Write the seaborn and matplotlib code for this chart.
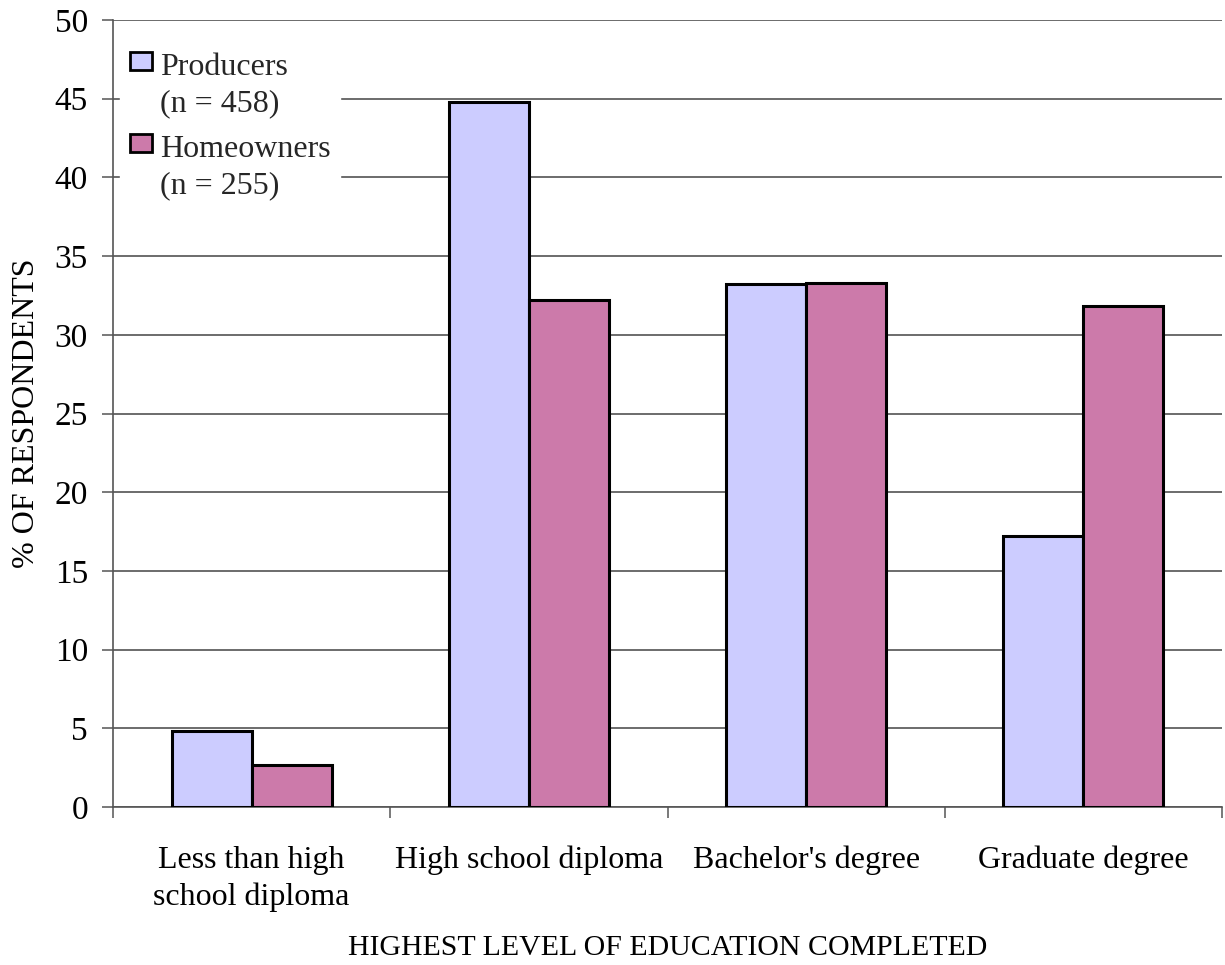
import matplotlib
matplotlib.use("Agg")
import matplotlib.pyplot as plt
from matplotlib.patches import Rectangle
from matplotlib.legend_handler import HandlerPatch
import seaborn as sns
import pandas as pd
import numpy as np

categories = ["Less than high\nschool diploma", "High school diploma",
              "Bachelor's degree", "Graduate degree"]
producers = [4.8, 44.8, 33.2, 17.2]
homeowners = [2.7, 32.2, 33.3, 31.8]
series_names = ["Producers\n(n = 458)", "Homeowners\n(n = 255)"]
y_ticks = [0, 5, 10, 15, 20, 25, 30, 35, 40, 45, 50]

df = pd.DataFrame({
    "category": categories * 2,
    "value": producers + homeowners,
    "series": [series_names[0]] * len(categories) + [series_names[1]] * len(categories),
})


class TopAlignedPatch(HandlerPatch):
    """Legend key that sits beside the first line of a two-line label."""

    def __init__(self, shift=0.0, **kw):
        super().__init__(**kw)
        self.shift = shift

    def create_artists(self, legend, orig_handle, xdescent, ydescent,
                       width, height, fontsize, trans):
        p = Rectangle((-xdescent, -ydescent + self.shift * fontsize), width, height)
        self.update_prop(p, orig_handle, legend)
        p.set_transform(trans)
        return [p]


sns.set_theme(style="white")
plt.rcParams["font.family"] = ["Liberation Serif", "DejaVu Serif"]

fig = plt.figure(figsize=(12.25, 9.65), dpi=100)
ax = fig.add_axes([0.0922, 0.1637, 0.9054, 0.8156])

palette = {series_names[0]: "#CCCCFF", series_names[1]: "#CC7AAA"}
sns.barplot(data=df, x="category", y="value", hue="series", order=categories,
            hue_order=series_names, palette=palette, width=0.577, gap=0,
            edgecolor="black", linewidth=2.2, saturation=1, ax=ax, zorder=3)

ax.set_ylim(0, 50)
ax.set_xlim(-0.5, len(categories) - 0.5)
ax.set_yticks(y_ticks)
ax.yaxis.grid(True, color="#444444", linewidth=1.1, zorder=0)
ax.set_axisbelow(True)

for side in ["top", "right"]:
    ax.spines[side].set_visible(False)
ax.spines["left"].set_color("#555555")
ax.spines["bottom"].set_color("#555555")
ax.spines["left"].set_linewidth(1.2)
ax.spines["bottom"].set_linewidth(1.2)

ax.tick_params(axis="y", which="major", left=True, length=8, width=1.1,
               color="#555555", labelsize=24, pad=10, labelcolor="black")
ax.tick_params(axis="x", which="major", bottom=False, labelsize=23, pad=22,
               labelcolor="black")
ax.set_xticks(np.arange(-0.5, len(categories), 1.0), minor=True)
ax.tick_params(axis="x", which="minor", bottom=True, length=8, width=1.1,
               color="#555555")
for lbl in ax.get_xticklabels():
    lbl.set_linespacing(1.33)

ax.set_xlabel("HIGHEST LEVEL OF EDUCATION COMPLETED", fontsize=21.5,
              labelpad=17, color="black")
ax.set_ylabel("% OF RESPONDENTS", fontsize=23, labelpad=10, color="black")

handles, labels = ax.get_legend_handles_labels()
leg = ax.legend(handles, labels, loc="upper left", bbox_to_anchor=(0.0063, 0.971),
                fontsize=23, frameon=True, framealpha=1, edgecolor="white",
                fancybox=False, handlelength=0.69, handleheight=0.52,
                handletextpad=0.25, labelspacing=0.52, borderpad=0.31,
                borderaxespad=0,
                handler_map={h: TopAlignedPatch(shift=0.75) for h in handles})
for h in leg.legend_handles:
    h.set_edgecolor("black")
    h.set_linewidth(2)
for t in leg.get_texts():
    t.set_linespacing(1.33)
leg.set_zorder(5)

fig.savefig("out.png", dpi=100, facecolor="white")
